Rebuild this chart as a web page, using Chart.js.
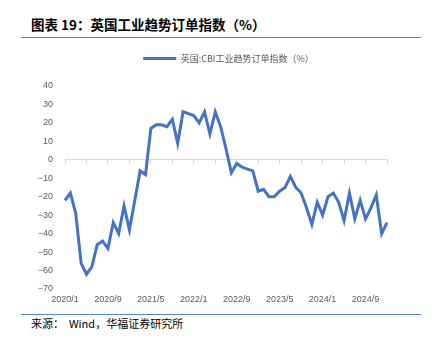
<!DOCTYPE html>
<html>
<head>
<meta charset="utf-8">
<script src="https://cdn.jsdelivr.net/npm/chart.js@4"></script>
<style>
  body { margin: 0; background: #fff; }
  #wrap { position: relative; width: 432px; height: 343px; overflow: hidden; }
  #title { position: absolute; left: 31px; top: 14px; font: bold 13.5px "Noto Sans CJK SC", sans-serif; color: #000; }
  .rule { position: absolute; left: 21px; width: 400px; height: 1px; background: #5b87cf; }
  #source { position: absolute; left: 31px; top: 315px; font: 11px "Noto Sans CJK SC", sans-serif; color: #000; white-space: pre; }
  #box { position: absolute; left: 0; top: 40px; width: 432px; height: 274px; }
</style>
</head>
<body>
<div id="wrap">
  <div id="title">图表 19：英国工业趋势订单指数（%）</div>
  <div class="rule" style="top:37px"></div>
  <div id="box"><canvas id="chart"></canvas></div>
  <div class="rule" style="top:314px"></div>
  <div id="source">来源：  Wind，华福证券研究所</div>
</div>
<script>
// months 2020/1 .. 2025/1
const labels = [];
for (let y = 2020; y <= 2025; y++) {
    for (let m = 1; m <= 12; m++) {
        if (y === 2025 && m > 1) break;
        labels.push(y + "/" + m);
    }
}

// 英国:CBI工业趋势订单指数
const orders = [
    -22, -18, -29, -56, -62, -58, -46, -44, -48, -34, -40, -25,
    -38, -22, -6, -8, 17, 19, 19, 18, 22, 9, 26, 25,
    24, 20, 26, 14, 26, 18, 6, -7, -2, -4, -5, -6,
    -17, -16, -20, -20, -17, -15, -9, -15, -18, -26, -35, -23,
    -30, -20, -18, -23, -33, -18, -32, -22, -32, -26, -19, -40,
    -34
];

const seriesName = "英国:CBI工业趋势订单指数（%）";
const yMin = -70, yMax = 40, yStep = 10;

const gray = "#595959";
const blue = "#4472C4";

// a bit more room under the legend, and nudge it right like the original
const legendSpacing = {
    id: 'legendSpacing',
    beforeInit(c) {
        const fit = c.legend.fit;
        c.legend.fit = function () {
            fit.bind(c.legend)();
            this.height += 13;
        };
    },
    afterLayout(c) {
        c.legend.left += 35;
        c.legend.right += 35;
    }
};

const context = document.getElementById("chart").getContext("2d");
const chart = new Chart(context, {
    type: 'line',
    data: {
        labels,
        datasets: [{
            label: seriesName,
            data: orders,
            borderColor: blue,
            backgroundColor: blue,
            borderWidth: 3,
            pointRadius: 0,
            tension: 0,
            xAxisID: 'x'
        }]
    },
    options: {
        responsive: true,
        maintainAspectRatio: false,
        animation: false,
        layout: { padding: { top: 0, left: 0, right: 45, bottom: 0 } },
        plugins: {
            tooltip: { enabled: false },
            legend: {
                position: 'top',
                labels: {
                    boxWidth: 33,
                    boxHeight: 3,
                    padding: 14,
                    color: gray,
                    font: { family: "Noto Sans CJK SC", size: 9 },
                    generateLabels(c) {
                        return Chart.defaults.plugins.legend.labels.generateLabels(c)
                            .map(item => Object.assign(item, { lineWidth: 0 }));
                    }
                }
            }
        },
        scales: {
            x: {
                type: 'category',
                offset: false,
                grid: { display: false, drawTicks: false },
                border: { display: false },
                ticks: {
                    autoSkip: false,
                    maxRotation: 0,
                    padding: 5,
                    color: gray,
                    font: { family: "Liberation Sans", size: 9 },
                    callback(v, i) { return i % 8 === 0 ? this.getLabelForValue(v) : null; }
                },
                afterFit(scale) { scale.height = 25; }
            },
            // axis line drawn across zero, with small tick marks
            x2: {
                type: 'category',
                position: { y: 0 },
                offset: false,
                grid: { display: true, drawOnChartArea: false, drawTicks: true, tickLength: 4, color: '#d9d9d9' },
                border: { display: true, color: '#d9d9d9', width: 1 },
                ticks: {
                    autoSkip: false,
                    maxRotation: 0,
                    callback(v, i) { return i % 4 === 0 ? '' : null; }
                }
            },
            y: {
                min: yMin,
                max: yMax,
                grid: { display: false, drawTicks: false },
                border: { display: false },
                ticks: {
                    stepSize: yStep,
                    padding: 12,
                    color: gray,
                    font: { family: "Liberation Sans", size: 9 },
                    callback(v) { return String(v).replace('-', '\u2212'); }
                },
                afterFit(scale) { scale.width = 65; }
            }
        }
    },
    plugins: [legendSpacing]
});
</script>
</body>
</html>
